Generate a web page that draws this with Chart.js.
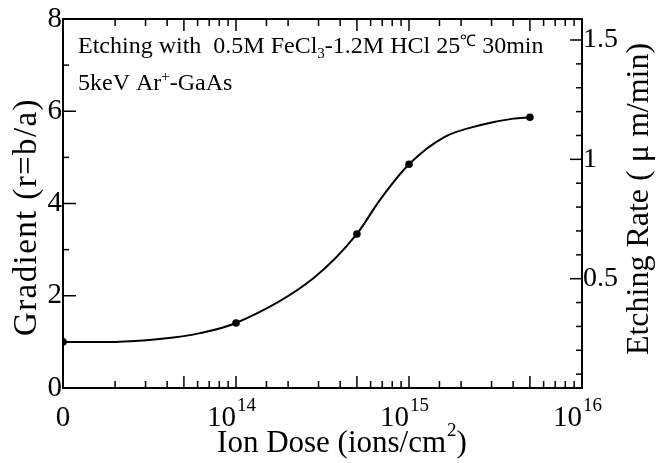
<!DOCTYPE html>
<html><head><meta charset="utf-8">
<script src="https://cdn.jsdelivr.net/npm/chart.js@4.4.1/dist/chart.umd.min.js"></script>
<style>html,body{margin:0;padding:0;background:#fff;}#wrap{width:662px;height:463px;}</style>
</head><body><div id="wrap"><canvas id="c" width="662" height="463"></canvas></div>
<script>
// ---- data ----
const measuredDose = [0, 1e14, 5e14, 1e15, 5e15];          // ions/cm^2
const measuredGradient = [1.0, 1.41, 3.34, 4.85, 5.87];
const curveDose = [0, 2e13, 3.6e13, 6.2e13, 1e14, 2.8e14, 5e14, 6.8e14, 1e15, 1.6e15, 2.6e15, 4e15, 5e15];
const curveGradient = [1.0, 1.0, 1.06, 1.19, 1.41, 2.38, 3.34, 4.08, 4.85, 5.44, 5.70, 5.84, 5.87];
const zeroDosePosition = 1e13;   // where the "0" dose sits on the log axis
const xTickValues = [1e13, 1e14, 1e15, 1e16];
const xTickBase = ['0', '10', '10', '10'];
const xTickExp = ['', '14', '15', '16'];
const yLeftLabels = [0, 2, 4, 6, 8];
const yRightLabels = [0.5, 1, 1.5];
const xTitle = ['Ion Dose (ions/cm', '2', ')'];
const yLeftTitle = 'Gradient (r=b/a)';
const yRightTitle = 'Etching Rate ( \u03bc m/min)';
const note1 = ['Etching with  0.5M FeCl', '3', '-1.2M HCl 25', '\u2103', ' 30min'];
const note2 = ['5keV Ar', '+', '-GaAs'];

const SERIF = '"Liberation Serif", "Times New Roman", serif';
const toPos = d => d === 0 ? zeroDosePosition : d;
const curveData = curveDose.map((d, i) => ({x: toPos(d), y: curveGradient[i]}));
const pointData = measuredDose.map((d, i) => ({x: toPos(d), y: measuredGradient[i]}));

const near = (a, b) => Math.abs(a - b) < 1e-6;

const framePlugin = {
  id: 'frame',
  afterDraw(chart) {
    const ctx = chart.ctx, a = chart.chartArea;
    const sx = chart.scales.x, sy = chart.scales.y, sr = chart.scales.y2;
    ctx.save();
    ctx.strokeStyle = '#000';
    ctx.lineWidth = 1.5;
    const line = (x1, y1, x2, y2) => { ctx.beginPath(); ctx.moveTo(x1, y1); ctx.lineTo(x2, y2); ctx.stroke(); };
    // x ticks (bottom and top, inward)
    sx.ticks.forEach(t => {
      const v = t.value;
      const m = Math.round(v / Math.pow(10, Math.floor(Math.log10(v) + 1e-9)));
      const len = (m === 1 || m === 5) ? 12 : 7;
      const px = sx.getPixelForValue(v);
      if (px <= a.left + 1 || px >= a.right - 1) return;
      line(px, a.bottom, px, a.bottom - len);
      line(px, a.top, px, a.top + len);
    });
    // left y ticks
    sy.ticks.forEach(t => {
      const py = sy.getPixelForValue(t.value);
      if (py <= a.top + 1 || py >= a.bottom - 1) return;
      const len = yLeftLabels.some(v => near(v, t.value)) ? 13 : 6;
      line(a.left, py, a.left + len, py);
    });
    // right y ticks
    sr.ticks.forEach(t => {
      const py = sr.getPixelForValue(t.value);
      if (py <= a.top + 1 || py >= a.bottom - 1) return;
      const len = yRightLabels.some(v => near(v, t.value)) ? 12 : 6;
      line(a.right, py, a.right - len, py);
    });
    ctx.lineWidth = 2;
    ctx.strokeRect(a.left, a.top, a.right - a.left, a.bottom - a.top);

    ctx.fillStyle = '#000';
    // x tick labels
    xTickValues.forEach((v, i) => {
      const px = sx.getPixelForValue(v) - (xTickExp[i] ? 5 : 0);
      ctx.font = '29px ' + SERIF;
      const wb = ctx.measureText(xTickBase[i]).width;
      ctx.font = '19px ' + SERIF;
      const we = ctx.measureText(xTickExp[i]).width;
      let x0 = px - (wb + we) / 2;
      ctx.textAlign = 'left';
      ctx.textBaseline = 'alphabetic';
      ctx.font = '29px ' + SERIF;
      ctx.fillText(xTickBase[i], x0, 426);
      ctx.font = '19px ' + SERIF;
      ctx.fillText(xTickExp[i], x0 + wb + 1, 411);
    });
    // x title
    {
      ctx.font = '31px ' + SERIF;
      const w0 = ctx.measureText(xTitle[0]).width;
      const w2 = ctx.measureText(xTitle[2]).width;
      ctx.font = '19px ' + SERIF;
      const w1 = ctx.measureText(xTitle[1]).width;
      const cx = 342;
      let x0 = cx - (w0 + w1 + w2 + 1) / 2;
      ctx.textAlign = 'left';
      ctx.font = '31px ' + SERIF;
      ctx.fillText(xTitle[0], x0, 452);
      ctx.font = '19px ' + SERIF;
      ctx.fillText(xTitle[1], x0 + w0 + 1, 436);
      ctx.font = '31px ' + SERIF;
      ctx.fillText(xTitle[2], x0 + w0 + w1 + 1, 452);
    }
    // y titles
    ctx.save();
    ctx.translate(27, 217);
    ctx.rotate(-Math.PI / 2);
    ctx.font = '33px ' + SERIF;
    try { ctx.letterSpacing = '1.4px'; } catch (e) {}
    ctx.textAlign = 'center';
    ctx.textBaseline = 'middle';
    ctx.fillText(yLeftTitle, 0, 0);
    ctx.restore();
    ctx.save();
    ctx.translate(640, 199);
    ctx.rotate(-Math.PI / 2);
    ctx.font = '32px ' + SERIF;
    ctx.textAlign = 'center';
    ctx.textBaseline = 'middle';
    ctx.fillText(yRightTitle, 0, 0);
    ctx.restore();
    // annotation
    const drawRuns = (runs, x, y, styles) => {
      ctx.textAlign = 'left';
      ctx.textBaseline = 'alphabetic';
      runs.forEach((r, i) => {
        const s = styles[i];
        ctx.font = s.size + 'px ' + SERIF;
        ctx.fillText(r, x, y + s.dy);
        x += ctx.measureText(r).width;
      });
    };
    drawRuns(note1, 78, 53, [{size: 24, dy: 0}, {size: 15, dy: 5}, {size: 24, dy: 0}, {size: 16, dy: -7}, {size: 24, dy: 0}]);
    drawRuns(note2, 78, 90, [{size: 24, dy: 0}, {size: 15, dy: -9}, {size: 24, dy: 0}]);
    ctx.restore();
  }
};

new Chart(document.getElementById('c'), {
  type: 'line',
  data: {
    datasets: [
      {
        data: curveData, borderColor: '#000', borderWidth: 2, pointRadius: 0,
        cubicInterpolationMode: 'monotone', fill: false, yAxisID: 'y'
      },
      {
        data: pointData, showLine: false, pointRadius: 3.8, pointBackgroundColor: '#000',
        pointBorderColor: '#000', pointBorderWidth: 0, yAxisID: 'y'
      }
    ]
  },
  options: {
    responsive: false, devicePixelRatio: 1, animation: false,
    layout: {padding: {top: 19, left: 0, right: 0, bottom: 0}},
    plugins: {legend: {display: false}, tooltip: {enabled: false}},
    scales: {
      x: {
        type: 'logarithmic', min: 1e13, max: 1e16, position: 'bottom',
        grid: {display: false, drawTicks: false}, border: {display: false},
        ticks: {display: false, autoSkip: false},
        afterFit: s => { s.height = 75; }
      },
      y: {
        type: 'linear', min: 0, max: 8, position: 'left',
        grid: {display: false, drawTicks: false}, border: {display: false},
        ticks: {
          stepSize: 1, autoSkip: false, padding: 1, color: '#000',
          font: {family: SERIF, size: 29},
          callback: v => yLeftLabels.some(l => near(l, v)) ? String(v) : ''
        },
        afterFit: s => { s.width = 63; }
      },
      y2: {
        type: 'linear', min: 0.042, max: 1.588, position: 'right',
        grid: {display: false, drawTicks: false}, border: {display: false},
        ticks: {
          stepSize: 0.1, autoSkip: false, includeBounds: false, padding: 1, color: '#000',
          font: {family: SERIF, size: 28},
          callback: v => { const l = yRightLabels.find(x => near(x, v)); return l === undefined ? '' : String(l); }
        },
        afterFit: s => { s.width = 80; }
      }
    }
  },
  plugins: [framePlugin]
});
</script>
</body></html>
